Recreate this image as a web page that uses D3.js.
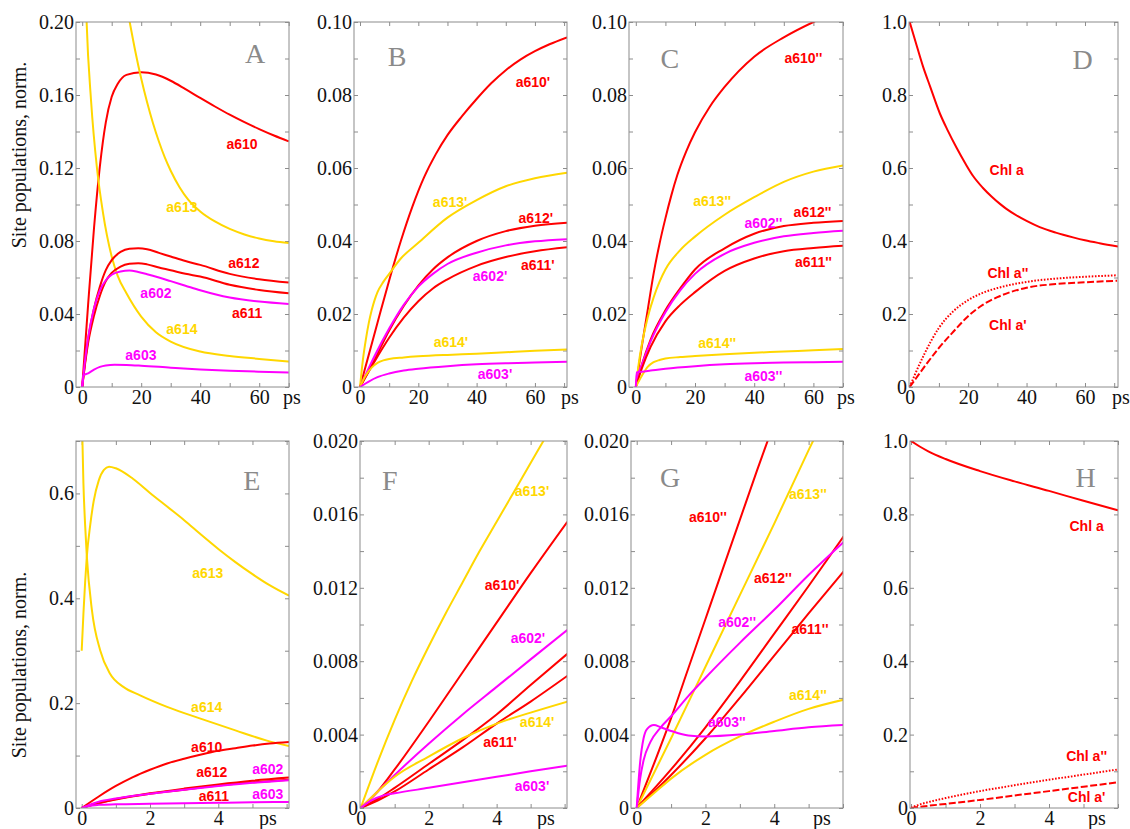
<!DOCTYPE html>
<html>
<head>
<meta charset="utf-8">
<script src="https://cdn.jsdelivr.net/npm/d3@7"></script>
<style>
  body { margin: 0; background: #fff; }
</style>
</head>
<body>
<svg id="chart" width="1130" height="829"></svg>
<script>
// ---- data: [time (ps), normalised site population] ----
// Panel A (0-70 ps)
const A_a610 = [[0,0],[2,0.045],[4,0.087],[6,0.121],[8,0.145],[10,0.159],[12,0.166],[15,0.171],[20,0.1725],[25,0.1712],[30,0.1678],[35,0.1632],[40,0.1584],[45,0.1537],[50,0.1492],[55,0.1451],[60,0.1413],[65,0.1378],[70,0.1346]];
const A_a613 = [[14,0.218],[16.1,0.2],[18,0.184],[20,0.169],[22,0.156],[24,0.1445],[26,0.1345],[28,0.1258],[30,0.1185],[33,0.1095],[36,0.1025],[40,0.0962],[45,0.0907],[50,0.0866],[55,0.0836],[60,0.0814],[65,0.0799],[70,0.0789]];
const A_a614 = [[0.5,0.26],[1.5,0.2],[3,0.157],[5,0.12],[7,0.096],[10,0.0715],[12,0.061],[15,0.0514],[20,0.0386],[25,0.030],[30,0.0249],[40,0.0194],[50,0.017],[60,0.0154],[70,0.0139]];
const A_a612 = [[0,0],[1,0.014],[2,0.026],[4,0.043],[6,0.055],[8,0.064],[10,0.0695],[13,0.074],[16,0.0758],[19,0.076],[22,0.0755],[26,0.0735],[30,0.0715],[35,0.069],[40,0.0669],[50,0.062],[60,0.059],[70,0.0572]];
const A_a611 = [[0,0],[1,0.013],[2,0.024],[4,0.039],[6,0.05],[8,0.058],[10,0.0625],[13,0.066],[16,0.0675],[19,0.0678],[22,0.0672],[26,0.0655],[30,0.064],[35,0.062],[40,0.0605],[50,0.056],[60,0.0532],[70,0.0514]];
const A_a602 = [[0,0],[1,0.015],[2,0.027],[4,0.043],[6,0.053],[8,0.0585],[10,0.0615],[13,0.0633],[16,0.0638],[19,0.063],[22,0.0618],[26,0.06],[30,0.058],[35,0.0555],[40,0.053],[50,0.049],[60,0.0468],[70,0.0455]];
const A_a603 = [[0,0],[0.4,0.0064],[2,0.0075],[4,0.0095],[6,0.011],[8,0.0118],[11,0.0122],[15,0.0121],[20,0.0117],[30,0.0106],[40,0.0096],[50,0.0089],[60,0.0084],[70,0.008]];

// Panel B
const B_a610 = [[0,0],[3,0.0088],[6,0.0176],[10,0.0292],[14,0.040],[18,0.0495],[22,0.0575],[26,0.0638],[30,0.069],[35,0.0742],[40,0.0789],[45,0.0832],[50,0.0868],[55,0.0897],[60,0.092],[65,0.0939],[71,0.0958]];
const B_a613 = [[0,0],[1,0.0075],[2,0.013],[3,0.0175],[4,0.021],[5,0.0238],[6,0.026],[8,0.0288],[10,0.031],[14,0.0352],[20,0.0395],[30,0.0464],[40,0.0512],[50,0.055],[60,0.0572],[71,0.0587]];
const B_a612 = [[0,0],[5,0.0075],[10,0.0155],[15,0.0222],[20,0.0278],[25,0.0322],[30,0.0355],[40,0.040],[50,0.0427],[60,0.0442],[71,0.045]];
const B_a602 = [[0,0],[5,0.0085],[10,0.016],[15,0.0225],[20,0.0275],[25,0.031],[30,0.0337],[40,0.0368],[50,0.0388],[60,0.0399],[71,0.0405]];
const B_a611 = [[0,0],[5,0.007],[10,0.0135],[15,0.019],[20,0.0235],[25,0.027],[30,0.0295],[40,0.0332],[50,0.0356],[60,0.0372],[71,0.0383]];
const B_a614 = [[0,0],[2,0.0032],[4,0.0053],[6,0.0066],[8,0.0073],[10,0.0077],[15,0.0081],[20,0.0084],[30,0.0088],[40,0.0091],[50,0.0095],[60,0.0099],[71,0.0103]];
const B_a603 = [[0,0],[3,0.0015],[6,0.0027],[10,0.0037],[15,0.0045],[20,0.005],[30,0.0057],[40,0.0062],[50,0.0065],[60,0.0067],[71,0.0069]];

// Panel C
const C_a610 = [[0,0],[2,0.011],[4,0.021],[6,0.031],[8,0.0392],[10,0.0462],[12,0.0525],[14,0.058],[17,0.0645],[20,0.0698],[25,0.0768],[30,0.0822],[40,0.0905],[50,0.0958],[60,0.1],[70,0.1035]];
const C_a613 = [[0,0],[1,0.0065],[2,0.0115],[4,0.019],[6,0.0245],[8,0.0288],[10,0.0322],[15,0.0375],[20,0.0412],[30,0.0472],[40,0.052],[50,0.0562],[60,0.059],[70,0.0607]];
const C_a612 = [[0,0],[2,0.006],[5,0.013],[10,0.021],[15,0.027],[20,0.0322],[30,0.038],[40,0.042],[50,0.0441],[60,0.045],[70,0.0455]];
const C_a602 = [[0,0],[1,0.004],[2,0.006],[5,0.0125],[10,0.0205],[15,0.0265],[20,0.031],[30,0.0365],[40,0.0395],[50,0.0413],[60,0.0422],[70,0.0428]];
const C_a611 = [[0,0],[2,0.005],[5,0.011],[10,0.018],[15,0.0225],[20,0.026],[30,0.0318],[40,0.0352],[50,0.0372],[60,0.0381],[70,0.0387]];
const C_a614 = [[0,0],[2,0.003],[4,0.0055],[6,0.0068],[8,0.0074],[10,0.0078],[15,0.0082],[20,0.0085],[30,0.009],[40,0.0094],[50,0.0097],[60,0.0101],[70,0.0104]];
const C_a603 = [[0,0],[0.3,0.004],[2,0.0042],[5,0.0045],[10,0.005],[20,0.0057],[30,0.0062],[40,0.0065],[50,0.0067],[60,0.0068],[70,0.0069]];

// Panel D
const D_chlA = [[0,1],[2,0.946],[4.6,0.877],[7,0.823],[10.3,0.75],[13,0.703],[16,0.656],[19,0.613],[21.7,0.578],[25,0.546],[28,0.522],[31,0.501],[33.1,0.488],[37,0.468],[40,0.455],[44.5,0.438],[50,0.423],[55.9,0.41],[60,0.402],[65,0.394],[71.3,0.385]];
const D_chlA2 = [[0,0],[2,0.038],[5,0.09],[10,0.162],[15,0.208],[20,0.238],[25,0.258],[30,0.271],[40,0.288],[50,0.297],[60,0.302],[71,0.306]];
const D_chlA1 = [[0,0],[2,0.022],[5,0.055],[10,0.107],[15,0.152],[20,0.194],[25,0.225],[30,0.246],[40,0.272],[50,0.282],[60,0.287],[71,0.291]];

// Panel E (0-6 ps)
const E_a613 = [[0,0.3],[0.05,0.37],[0.1,0.43],[0.15,0.48],[0.25,0.54],[0.35,0.585],[0.5,0.625],[0.65,0.645],[0.8,0.651],[1,0.648],[1.5,0.628],[2,0.601],[2.5,0.575],[3,0.549],[3.5,0.521],[4,0.494],[4.5,0.469],[5,0.446],[5.5,0.425],[6.07,0.405]];
const E_a614 = [[0,0.76],[0.05,0.62],[0.1,0.54],[0.15,0.48],[0.3,0.377],[0.54,0.301],[0.83,0.256],[1.22,0.231],[1.71,0.215],[2.5,0.193],[3.5,0.17],[4.5,0.148],[5.4,0.129],[6.07,0.118]];
const E_a610 = [[0,0],[0.5,0.022],[1,0.042],[1.5,0.059],[2,0.073],[2.5,0.085],[3,0.094],[3.5,0.102],[4,0.109],[4.5,0.114],[5,0.119],[5.5,0.123],[6.07,0.126]];
const E_a612 = [[0,0],[0.5,0.01],[1,0.017],[2,0.028],[3,0.037],[4,0.045],[5,0.052],[6.07,0.058]];
const E_a611 = [[0,0],[0.5,0.009],[1,0.016],[2,0.027],[3,0.035],[4,0.043],[5,0.049],[6.07,0.054]];
const E_a602 = [[0,0],[0.5,0.012],[1,0.018],[2,0.027],[3,0.035],[4,0.042],[5,0.048],[6.07,0.053]];
const E_a603 = [[0,0],[0.2,0.004],[0.5,0.006],[1,0.007],[2,0.008],[3,0.009],[4,0.01],[5,0.011],[6.07,0.0115]];

// Panel F
const F_a613 = [[0,0],[0.5,0.0025],[1,0.0048],[1.5,0.0069],[2,0.0088],[2.5,0.0106],[3,0.0123],[3.5,0.014],[4,0.0156],[4.5,0.0172],[5,0.0188],[5.5,0.0204],[6.1,0.0223]];
const F_a610 = [[0,0],[0.5,0.0009],[1,0.0021],[2,0.0047],[3,0.0074],[4,0.0101],[5,0.0128],[6.08,0.0156]];
const F_a602 = [[0,0],[0.5,0.0009],[1,0.0018],[2,0.0035],[3,0.0051],[4,0.0066],[5,0.0081],[6.08,0.0097]];
const F_a612 = [[0,0],[0.5,0.0005],[1,0.0011],[2,0.0024],[3,0.0037],[4,0.0051],[5,0.0067],[6.08,0.0084]];
const F_a611 = [[0,0],[0.5,0.0004],[1,0.0009],[2,0.0021],[3,0.0033],[4,0.0046],[5,0.0058],[6.08,0.0072]];
const F_a614 = [[0,0],[0.5,0.0009],[1,0.0017],[2,0.0028],[3,0.0038],[4,0.0046],[5,0.0052],[6.08,0.0058]];
const F_a603 = [[0,0],[0.3,0.0004],[0.7,0.0007],[1,0.0008],[2,0.0011],[3,0.0014],[4,0.0017],[5,0.002],[6.08,0.0023]];

// Panel G
const G_a610 = [[0,0],[0.5,0.0024],[1,0.0049],[1.5,0.0076],[2,0.0103],[2.5,0.013],[3,0.0157],[3.5,0.0184],[4,0.021],[4.5,0.0236]];
const G_a613 = [[0,0],[1,0.0038],[2,0.0077],[3,0.0116],[4,0.0155],[5,0.0195],[6,0.0234]];
const G_a612 = [[0,0],[1,0.0021],[2,0.0044],[3,0.0069],[4,0.0095],[5,0.0121],[6.02,0.0148]];
const G_a602 = [[0,0],[0.1,0.0016],[0.2,0.0026],[0.4,0.0036],[0.7,0.0044],[1,0.005],[1.5,0.0061],[2,0.0071],[3,0.009],[4,0.0108],[5,0.0127],[6.02,0.0145]];
const G_a611 = [[0,0],[1,0.0018],[2,0.0038],[3,0.006],[4,0.0083],[5,0.0106],[6.02,0.0129]];
const G_a614 = [[0,0],[0.5,0.0008],[1,0.0016],[2,0.0029],[3,0.0039],[4,0.0047],[5,0.0054],[6.02,0.0059]];
const G_a603 = [[0,0],[0.1,0.0025],[0.2,0.0038],[0.3,0.0043],[0.5,0.00452],[0.7,0.0044],[1,0.0042],[1.5,0.00395],[2,0.0039],[3,0.004],[4,0.0042],[5,0.0044],[6.02,0.00452]];

// Panel H
const H_chlA = [[0,1],[0.25,0.985],[0.5,0.972],[1,0.951],[2,0.918],[3,0.89],[4,0.864],[5,0.837],[6,0.811]];
const H_chlA2 = [[0,0],[0.2,0.008],[0.5,0.016],[1,0.027],[2,0.046],[3,0.062],[4,0.077],[5,0.091],[6,0.105]];
const H_chlA1 = [[0,0],[0.5,0.006],[1,0.011],[2,0.022],[3,0.034],[4,0.046],[5,0.058],[6,0.07]];

// ---- ticks ----
const xTicksLong = [0, 20, 40, 60];
const xTicksShort = [0, 2, 4];
const yTicksA = [0, 0.04, 0.08, 0.12, 0.16, 0.2];
const yLabelsA = ["0", "0.04", "0.08", "0.12", "0.16", "0.20"];
const yTicksBC = [0, 0.02, 0.04, 0.06, 0.08, 0.1];
const yLabelsBC = ["0", "0.02", "0.04", "0.06", "0.08", "0.10"];
const yTicksDH = [0, 0.2, 0.4, 0.6, 0.8, 1.0];
const yLabelsDH = ["0", "0.2", "0.4", "0.6", "0.8", "1.0"];
const yTicksE = [0, 0.2, 0.4, 0.6];
const yLabelsE = ["0", "0.2", "0.4", "0.6"];
const yTicksFG = [0, 0.004, 0.008, 0.012, 0.016, 0.02];
const yLabelsFG = ["0", "0.004", "0.008", "0.012", "0.016", "0.020"];

const RED = "#ff0000", GOLD = "#ffd700", MAG = "#ff00ff";
const FRAME = "#8c8c8c";
const SERIF = "'Liberation Serif', 'Times New Roman', serif";
const SANS = "'Liberation Sans', Arial, sans-serif";

const panels = [
  { letter: "A", L: 76, R: 289, T: 22, B: 387, xd: [-2.1, 70.1], yd: [0, 0.2], long: true,
    yMinor: 0.02, yTicks: yTicksA, yLabels: yLabelsA, letterAt: [58.6, 0.183],
    series: [
      [A_a610, RED, "a610", [54.2, 0.1333]],
      [A_a613, GOLD, "a613", [33.8, 0.0987]],
      [A_a614, GOLD, "a614", [33.8, 0.0318]],
      [A_a612, RED, "a612", [54.8, 0.068]],
      [A_a611, RED, "a611", [55.9, 0.0406]],
      [A_a602, MAG, "a602", [25.0, 0.0515]],
      [A_a603, MAG, "a603", [19.9, 0.0175]]
    ] },
  { letter: "B", L: 354, R: 567, T: 22, B: 387, xd: [-2.06, 71.0], yd: [0, 0.1], long: true,
    yMinor: 0.01, yTicks: yTicksBC, yLabels: yLabelsBC, letterAt: [12.7, 0.0907],
    series: [
      [B_a610, RED, "a610'", [59.3, 0.0836]],
      [B_a613, GOLD, "a613'", [30.9, 0.0507]],
      [B_a612, RED, "a612'", [60.3, 0.0463]],
      [B_a602, MAG, "a602'", [44.6, 0.0304]],
      [B_a611, RED, "a611'", [61.0, 0.0334]],
      [B_a614, GOLD, "a614'", [31.2, 0.0123]],
      [B_a603, MAG, "a603'", [46.3, 0.0036]]
    ] },
  { letter: "C", L: 629, R: 843, T: 22, B: 387, xd: [-2.3, 70.0], yd: [0, 0.1], long: true,
    yMinor: 0.01, yTicks: yTicksBC, yLabels: yLabelsBC, letterAt: [11.5, 0.0901],
    series: [
      [C_a610, RED, "a610''", [56.6, 0.0901]],
      [C_a613, GOLD, "a613''", [25.8, 0.0510]],
      [C_a612, RED, "a612''", [59.7, 0.0479]],
      [C_a602, MAG, "a602''", [43.1, 0.0449]],
      [C_a611, RED, "a611''", [60.0, 0.0342]],
      [C_a614, GOLD, "a614''", [27.5, 0.0121]],
      [C_a603, MAG, "a603''", [43.1, 0.0030]]
    ] },
  { letter: "D", L: 909, R: 1118, T: 22, B: 387, xd: [-0.24, 71.3], yd: [0, 1], long: true,
    yMinor: 0.1, yTicks: yTicksDH, yLabels: yLabelsDH, letterAt: [59.2, 0.899],
    series: [
      [D_chlA, RED, "Chl a", [33.2, 0.595]],
      [D_chlA2, RED, "Chl a''", [33.6, 0.312], "1.6,1.6"],
      [D_chlA1, RED, "Chl a'", [33.6, 0.170], "7,2.5"]
    ] },
  { letter: "E", L: 76, R: 289, T: 441, B: 808, xd: [-0.167, 6.07], yd: [0, 0.7], long: false,
    yMinor: 0.1, yTicks: yTicksE, yLabels: yLabelsE, letterAt: [4.98, 0.626],
    series: [
      [E_a613, GOLD, "a613", [3.69, 0.448]],
      [E_a614, GOLD, "a614", [3.66, 0.193]],
      [E_a610, RED, "a610", [3.66, 0.116]],
      [E_a612, RED, "a612", [3.81, 0.069]],
      [E_a611, RED, "a611", [3.87, 0.023]],
      [E_a602, MAG, "a602", [5.45, 0.074]],
      [E_a603, MAG, "a603", [5.45, 0.027]]
    ] },
  { letter: "F", L: 360, R: 567, T: 441, B: 808, xd: [-0.02, 6.07], yd: [0, 0.02], long: false,
    yMinor: 0.002, yTicks: yTicksFG, yLabels: yLabelsFG, letterAt: [0.86, 0.01787],
    series: [
      [F_a613, GOLD, "a613'", [5.04, 0.01728]],
      [F_a610, RED, "a610'", [4.16, 0.01215]],
      [F_a602, MAG, "a602'", [4.92, 0.00926]],
      [F_a612, RED, null, null],
      [F_a611, RED, "a611'", [4.10, 0.0036]],
      [F_a614, GOLD, "a614'", [5.19, 0.00469]],
      [F_a603, MAG, "a603'", [5.04, 0.0012]]
    ] },
  { letter: "G", L: 631, R: 843, T: 441, B: 808, xd: [-0.166, 6.0], yd: [0, 0.02], long: false,
    yMinor: 0.002, yTicks: yTicksFG, yLabels: yLabelsFG, letterAt: [0.97, 0.01804],
    series: [
      [G_a610, RED, "a610''", [2.07, 0.01586]],
      [G_a613, GOLD, "a613''", [4.98, 0.01711]],
      [G_a612, RED, "a612''", [3.96, 0.01253]],
      [G_a602, MAG, "a602''", [2.92, 0.01014]],
      [G_a611, RED, "a611''", [5.04, 0.00975]],
      [G_a614, GOLD, "a614''", [4.98, 0.00616]],
      [G_a603, MAG, "a603''", [2.62, 0.00469]]
    ] },
  { letter: "H", L: 910, R: 1118, T: 441, B: 808, xd: [-0.03, 6.0], yd: [0, 1], long: false,
    yMinor: 0.1, yTicks: yTicksDH, yLabels: yLabelsDH, letterAt: [5.06, 0.902],
    series: [
      [H_chlA, RED, "Chl a", [5.09, 0.768]],
      [H_chlA2, RED, "Chl a''", [5.09, 0.142], "1.6,1.6"],
      [H_chlA1, RED, "Chl a'", [5.09, 0.030], "7,2.5"]
    ] }
];

const svg = d3.select("#chart");

function styleAxis(g) {
  g.select(".domain").remove();
  g.selectAll("line").attr("stroke", FRAME);
  g.attr("font-family", SERIF).attr("font-size", 20);
  g.selectAll("text").attr("fill", "#111");
}

function drawPanel(p) {
  const x = d3.scaleLinear().domain(p.xd).range([p.L, p.R]);
  const y = d3.scaleLinear().domain(p.yd).range([p.B, p.T]);
  const clipId = "clip-" + p.letter;

  svg.append("clipPath").attr("id", clipId)
    .append("rect")
    .attr("x", p.L).attr("y", p.T)
    .attr("width", p.R - p.L).attr("height", p.B - p.T);

  const xMinor = (p.long ? d3.range(0, 71, 10) : d3.range(0, 7, 1))
    .filter(v => v >= p.xd[0] && v <= p.xd[1]);
  const yMinor = d3.range(0, p.yd[1] + p.yMinor / 2, p.yMinor);

  // inward minor ticks on all four sides
  svg.append("g").attr("transform", `translate(0,${p.B})`)
    .call(d3.axisBottom(x).tickValues(xMinor).tickSize(-4).tickFormat(""))
    .call(styleAxis);
  svg.append("g").attr("transform", `translate(0,${p.T})`)
    .call(d3.axisTop(x).tickValues(xMinor).tickSize(-4).tickFormat(""))
    .call(styleAxis);
  svg.append("g").attr("transform", `translate(${p.L},0)`)
    .call(d3.axisLeft(y).tickValues(yMinor).tickSize(-4).tickFormat(""))
    .call(styleAxis);
  svg.append("g").attr("transform", `translate(${p.R},0)`)
    .call(d3.axisRight(y).tickValues(yMinor).tickSize(-4).tickFormat(""))
    .call(styleAxis);

  // tick labels
  svg.append("g").attr("transform", `translate(0,${p.B})`)
    .call(d3.axisBottom(x).tickValues(p.long ? xTicksLong : xTicksShort).tickSize(0).tickPadding(3).tickFormat(d => d))
    .call(styleAxis);
  svg.append("g").attr("transform", `translate(${p.L},0)`)
    .call(d3.axisLeft(y).tickValues(p.yTicks).tickSize(0).tickPadding(2).tickFormat((d, k) => p.yLabels[k]))
    .call(styleAxis);

  svg.append("text")
    .attr("x", p.long ? p.R + 3 : p.R - 21)
    .attr("y", p.B + 3)
    .attr("dy", "0.71em")
    .attr("text-anchor", "middle")
    .attr("font-family", SERIF).attr("font-size", 20).attr("fill", "#111")
    .text("ps");

  // curves
  const line = d3.line()
    .x(d => x(d[0]))
    .y(d => y(d[1]))
    .curve(d3.curveMonotoneX);

  const gLines = svg.append("g").attr("clip-path", `url(#${clipId})`);
  p.series.forEach(s => {
    gLines.append("path")
      .datum(s[0])
      .attr("d", line)
      .attr("fill", "none")
      .attr("stroke", s[1])
      .attr("stroke-width", 2)
      .attr("stroke-dasharray", s[4] || null);
  });

  // frame
  svg.append("rect")
    .attr("x", p.L).attr("y", p.T)
    .attr("width", p.R - p.L).attr("height", p.B - p.T)
    .attr("fill", "none").attr("stroke", FRAME).attr("stroke-width", 1);

  // curve labels
  p.series.filter(s => s[2]).forEach(s => {
    svg.append("text")
      .attr("x", x(s[3][0]))
      .attr("y", y(s[3][1]))
      .attr("dy", "0.35em")
      .attr("text-anchor", "middle")
      .attr("font-family", SANS)
      .attr("font-weight", "bold")
      .attr("font-size", 14)
      .attr("fill", s[1])
      .text(s[2]);
  });

  // panel letter
  svg.append("text")
    .attr("x", x(p.letterAt[0]))
    .attr("y", y(p.letterAt[1]))
    .attr("dy", "0.35em")
    .attr("text-anchor", "middle")
    .attr("font-family", SERIF)
    .attr("font-size", 28)
    .attr("fill", "#8a8a8a")
    .text(p.letter);
}

panels.forEach(drawPanel);

// y-axis titles
[155, 665].forEach(cy => {
  svg.append("text")
    .attr("transform", `translate(26,${cy}) rotate(-90)`)
    .attr("text-anchor", "middle")
    .attr("font-family", SERIF)
    .attr("font-size", 20)
    .attr("fill", "#111")
    .text("Site populations, norm.");
});
</script>
</body>
</html>
